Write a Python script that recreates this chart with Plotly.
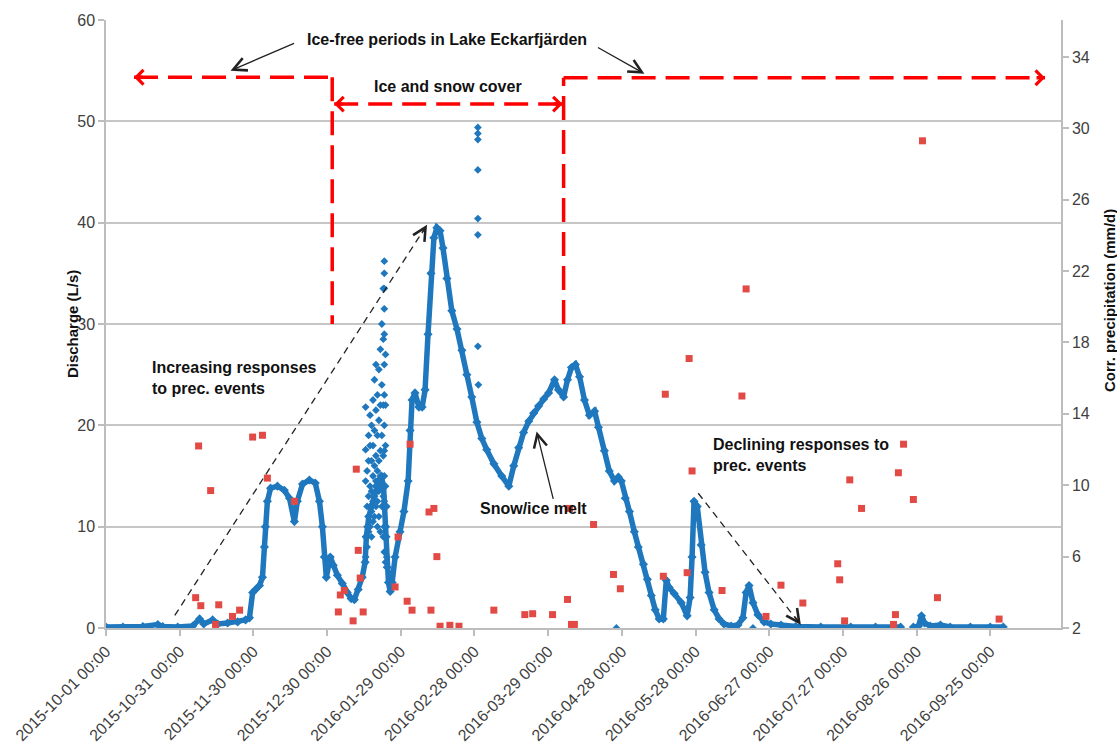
import pandas as pd
import plotly.graph_objects as go

START = pd.Timestamp("2015-10-01 00:00")

# ---------------- data (x = days after 2015-10-01 00:00) ----------------
# Discharge (L/s), main record
q_day = [0.0, 6.9, 15.0, 21.1, 23.1, 29.2, 35.3, 38.1, 39.8, 43.4, 45.5, 49.5, 53.6, 56.8, 58.4,
         59.7, 60.9, 62.5, 63.7, 64.5, 64.9, 65.7, 67.0, 69.8, 72.6, 74.7, 76.7, 77.9, 80.0, 82.8,
         85.2, 86.9, 88.1, 88.9, 89.7, 91.3, 92.5, 94.2, 96.2, 98.2, 99.8, 101.1, 102.7, 104.3, 105.5,
         106.0, 107.0, 108.0, 109.0, 110.0, 111.0, 112.0, 113.0, 113.8, 114.5, 115.0, 115.7, 116.5, 117.7,
         119.7, 121.3, 123.0, 123.8, 124.6, 125.8, 127.4, 128.7, 129.9, 131.1, 132.3, 133.5, 134.7,
         136.0, 137.2, 138.8, 140.8, 142.9, 144.9, 146.9, 148.9, 151.0, 153.0, 155.0, 157.9, 161.1,
         164.0, 166.0, 168.0, 170.0, 172.1, 174.1, 176.1, 178.2, 180.2, 182.6, 184.2, 186.3, 187.9,
         189.5, 191.1, 192.8, 194.8, 196.8, 198.9, 200.5, 202.9, 204.9, 207.0, 208.6, 209.8, 211.4,
         213.1, 215.1, 216.7, 218.8, 220.4, 222.0, 223.6, 225.2, 226.9, 228.1, 229.3, 231.3, 234.2,
         236.6, 237.8, 238.6, 239.4, 240.7, 242.3, 243.9, 245.5, 247.6, 249.6, 251.6, 254.5, 257.3,
         259.3, 260.6, 261.8, 263.4, 265.4, 267.9, 270.7, 274.8, 280.8, 291.0, 303.2, 313.3, 323.5,
         325.0, 328.7, 330.8, 332.0, 333.2, 335.6, 339.7, 343.7, 351.9, 360.0, 365.3]
q_val = [0.1, 0.1, 0.15, 0.35, 0.15, 0.1, 0.2, 0.9, 0.4, 0.8, 0.4, 0.5, 0.6, 0.8, 1.0,
         3.5, 3.8, 4.2, 5.0, 8.0, 10.0, 12.5, 13.8, 14.0, 13.6, 12.8, 10.5, 12.5, 14.2, 14.6,
         14.3, 12.5, 10.0, 7.0, 5.0, 7.0, 6.2, 5.2, 4.4, 3.5, 2.9, 2.8, 3.8, 5.0, 6.5,
         9.0, 11.0, 12.0, 13.0, 14.0, 14.5, 15.0, 14.0, 10.0, 6.0, 4.5, 3.6, 4.5, 7.0,
         9.5, 11.5, 14.5, 19.5, 22.5, 23.2, 21.8, 21.8, 23.5, 29.0, 35.0, 38.5, 39.5,
         39.2, 37.5, 34.5, 31.3, 29.5, 27.4, 25.0, 22.8, 20.3, 18.7, 17.6, 16.2, 15.0,
         14.0, 16.0, 17.8, 19.3, 20.4, 21.2, 21.9, 22.6, 23.2, 24.5, 23.5, 22.8, 24.5,
         25.7, 26.0, 24.8, 22.5, 21.0, 21.4, 19.8, 17.5, 15.5, 14.5, 14.9, 14.5, 12.8,
         11.5, 9.5, 8.0, 6.3, 4.8, 3.2, 1.8, 0.9, 0.9, 4.7, 4.0, 3.4, 2.5,
         1.2, 3.0, 7.0, 12.5, 12.0, 8.2, 5.5, 3.5, 1.8, 0.9, 0.4, 0.2, 0.3,
         1.0, 3.5, 4.2, 2.5, 1.3, 0.6, 0.4, 0.3, 0.15, 0.1, 0.1, 0.1, 0.1,
         None, 0.1, 0.2, 1.2, 0.5, 0.2, 0.3, 0.1, 0.1, 0.1, 0.1]

# Discharge, scattered readings during the January rain/thaw events and isolated readings
q_sc_day = [105.7, 105.7, 105.7, 105.7, 105.7,
            106.3, 106.3, 106.3, 106.3,
            106.9, 106.9, 106.9, 106.9, 106.9,
            107.5, 107.5, 107.5, 107.5, 107.5,
            108.1, 108.1, 108.1, 108.1, 108.1,
            108.7, 108.7, 108.7, 108.7, 108.7,
            109.3, 109.3, 109.3, 109.3, 109.3,
            109.9, 109.9, 109.9, 109.9, 109.9,
            110.5, 110.5, 110.5, 110.5, 110.5,
            111.1, 111.1, 111.1, 111.1, 111.1,
            111.7, 111.7, 111.7, 111.7, 111.7,
            112.3, 112.3, 112.3, 112.3, 112.3,
            112.9, 112.9, 112.9, 112.9, 112.9, 112.9,
            113.3, 113.3, 113.3, 113.3, 113.3, 113.3, 113.3, 113.3, 113.3, 113.3, 113.3, 113.3, 113.3,
            113.8, 113.8, 113.8, 113.8, 113.8, 113.8,
            114.3, 114.3, 114.3,
            151.4, 151.4, 151.4, 151.4, 151.4, 151.4, 151.4, 151.6, 207.8, 263.4]
q_sc_val = [21.8, 17.6, 14.5, 9.0, 7.0,
            12.0, 10.0, 8.0, 15.5,
            16.5, 13.0, 11.0, 9.5, 19.0,
            18.0, 14.0, 12.0, 10.0, 21.0,
            20.0, 16.5, 13.5, 11.5, 9.0,
            22.5, 18.0, 15.0, 12.5, 10.5,
            24.5, 19.5, 16.0, 13.0, 11.0,
            21.5, 17.0, 14.5, 12.0, 26.0,
            23.0, 19.0, 15.5, 12.5, 10.0,
            25.5, 20.5, 16.5, 13.5, 11.0,
            27.5, 22.0, 17.5, 14.0, 9.5,
            30.0, 24.0, 19.0, 15.0, 12.0,
            33.5, 28.5, 22.0, 17.0, 13.0, 9.0,
            36.2, 35.0, 33.5, 31.5, 29.0, 26.0, 23.0, 20.0, 17.5, 15.0, 12.5, 10.0, 7.5,
            27.0, 22.0, 18.0, 14.0, 10.0, 6.5,
            12.0, 9.0, 7.0,
            49.4, 48.8, 48.2, 45.2, 40.4, 38.8, 27.8, 24.0, 0.0, 0.0]

# Corrected precipitation (mm/d)
p_day = [36.5, 37.7, 38.6, 42.6, 44.6, 45.9, 51.5, 54.4, 59.7, 63.7, 65.7, 76.7, 94.6, 95.4,
         97.0, 100.6, 101.9, 102.7, 103.5, 104.7, 117.7, 118.9, 122.6, 123.8, 124.6, 131.5, 132.3,
         133.5, 134.7, 136.0, 140.0, 143.7, 157.9, 170.5, 173.7, 181.8, 187.9, 188.7, 189.5, 190.7,
         198.5, 206.6, 209.4, 226.9, 227.7, 236.6, 237.4, 238.6, 250.8, 258.9, 260.6, 268.7, 274.8,
         283.7, 297.9, 298.7, 300.7, 302.8, 307.6, 320.6, 321.4, 322.6, 324.7, 328.7, 332.4, 338.5,
         363.6]
p_val = [3.7, 12.2, 3.25, 9.7, 2.2, 3.3, 2.65, 3.0, 12.7, 12.8, 10.4, 9.1, 2.9, 3.85,
         4.1, 2.4, 10.9, 6.35, 4.8, 2.9, 4.3, 7.1, 3.5, 12.3, 3.0, 8.5, 3.0,
         8.7, 6.0, 2.1, 2.15, 2.1, 3.0, 2.75, 2.8, 2.75, 3.6, 8.7, 2.2, 2.2,
         7.8, 5.0, 4.2, 4.9, 15.1, 5.1, 17.1, 10.8, 4.1, 15.0, 21.0, 2.65, 4.4,
         3.4, 5.6, 4.7, 2.4, 10.3, 8.7, 2.2, 2.75, 10.7, 12.3, 9.2, 29.3, 3.7,
         2.5]

tick_days = [0, 30, 60, 90, 120, 150, 180, 210, 240, 270, 300, 330, 360]
x_end_day = 388.8

left_ticks = [0, 10, 20, 30, 40, 50, 60]
right_ticks = [2, 6, 10, 14, 18, 22, 26, 30, 34]


def D(days):
    return START + pd.to_timedelta(days, unit="D")


q_x = [D(d) for d in q_day]
qs_x = [D(d) for d in q_sc_day]
p_x = [D(d) for d in p_day]
tick_x = [D(d) for d in tick_days]
tick_text = [t.strftime("%Y-%m-%d %H:%M") for t in tick_x]

BLUE = "#1f78be"
PRED = "#e24a45"
FONT = "Liberation Sans, Arial, sans-serif"
GRID = "#c6c6c6"
AX = "#bdbdbd"

fig = go.Figure()
fig.add_trace(go.Scatter(x=q_x, y=q_val, mode="lines+markers", connectgaps=False,
                         line=dict(color=BLUE, width=5.5),
                         marker=dict(symbol="diamond", size=7, color=BLUE),
                         showlegend=False, yaxis="y"))
fig.add_trace(go.Scatter(x=qs_x, y=q_sc_val, mode="markers",
                         marker=dict(symbol="diamond", size=6, color=BLUE),
                         showlegend=False, yaxis="y"))
fig.add_trace(go.Scatter(x=p_x, y=p_val, mode="markers",
                         marker=dict(symbol="square", size=7, color=PRED),
                         showlegend=False, yaxis="y2"))

RED = "#ff0000"
red_line = dict(color=RED, width=3.5, dash="24px,10px")
blk_line = dict(color="#222222", width=1.3, dash="7px,5px")
shapes = [
    dict(type="line", xref="x", yref="y", x0=D(11.4), x1=D(92.1), y0=54.35, y1=54.35, line=red_line),
    dict(type="line", xref="x", yref="y", x0=D(92.1), x1=D(92.1), y0=54.35, y1=30, line=red_line),
    dict(type="line", xref="x", yref="y", x0=D(92.9), x1=D(185.9), y0=51.7, y1=51.7, line=red_line),
    dict(type="line", xref="x", yref="y", x0=D(186.3), x1=D(186.3), y0=30, y1=54.3, line=red_line),
    dict(type="line", xref="x", yref="y", x0=D(186.3), x1=D(382.3), y0=54.3, y1=54.3, line=red_line),
    dict(type="line", xref="x", yref="y", x0=D(28.0), x1=D(130.7), y0=1.24, y1=39.8, line=blk_line),
    dict(type="line", xref="x", yref="y", x0=D(241.1), x1=D(282.9), y0=13.3, y1=0.29, line=blk_line),
]

ann = []
tfont = dict(family=FONT, size=16, color="#111111")


def text(day, y, s, xanchor="center", align="center"):
    ann.append(dict(x=D(day), y=y, xref="x", yref="y", text=s, showarrow=False,
                    xanchor=xanchor, yanchor="middle", align=align, font=tfont))


def arrow(day, y, ax, ay, color, width, head, size):
    ann.append(dict(x=D(day), y=y, xref="x", yref="y", text="", showarrow=True,
                    ax=ax, ay=ay, arrowcolor=color, arrowwidth=width, arrowhead=head,
                    arrowsize=size, standoff=0, startstandoff=0))


text(138.8, 58.1, "<b>Ice-free periods in Lake Eckarfjärden</b>")
text(139.2, 53.4, "<b>Ice and snow cover</b>")
text(17.9, 24.7, "<b>Increasing responses<br>to prec. events</b>", xanchor="left", align="left")
text(246.3, 17.1, "<b>Declining responses to<br>prec. events</b>", xanchor="left", align="left")
text(174.1, 11.8, "<b>Snow/ice melt</b>")

# solid black arrows
arrow(50.7, 55.0, 65, -28, "#222222", 1.3, 5, 2.0)
arrow(219.2, 54.7, -48, -27, "#222222", 1.3, 5, 2.0)
arrow(175.3, 19.4, 17, 69, "#222222", 1.3, 5, 2.0)
# heads of dashed black arrows
arrow(130.7, 39.8, -6, 10, "#222222", 1.3, 5, 2.0)
arrow(282.9, 0.29, -7, -10, "#222222", 1.3, 5, 2.0)
# red arrow heads
arrow(11.4, 54.35, 10, 0, RED, 3.5, 4, 0.8)
arrow(92.9, 51.7, 10, 0, RED, 3.5, 4, 0.8)
arrow(185.9, 51.7, -10, 0, RED, 3.5, 4, 0.8)
arrow(382.3, 54.3, -10, 0, RED, 3.5, 4, 0.8)

# axis titles
ann.append(dict(xref="paper", yref="paper", x=(69 - 103) / 958, y=0.5, text="<b>Discharge (L/s)</b>",
                textangle=-90, showarrow=False, xanchor="center", yanchor="middle",
                font=dict(family=FONT, size=15, color="#111111")))
ann.append(dict(xref="paper", yref="paper", x=(1109 - 103) / 958, y=(646 - 308) / 627,
                text="<b>Corr. precipitation (mm/d)</b>", textangle=-90, showarrow=False,
                xanchor="center", yanchor="middle", font=dict(family=FONT, size=15, color="#111111")))

fig.update_layout(
    width=1117, height=756,
    margin=dict(l=103, r=56, t=19, b=110),
    paper_bgcolor="white", plot_bgcolor="white",
    showlegend=False,
    shapes=shapes, annotations=ann,
    xaxis=dict(type="date", range=[D(0), D(x_end_day)], tickmode="array", tickvals=tick_x,
               ticktext=tick_text, tickangle=-45, tickfont=dict(family=FONT, size=16, color="#404040"),
               showgrid=False, zeroline=False, showline=True, linecolor=AX, linewidth=1.5,
               ticks="outside", ticklen=6, tickcolor=AX, tickwidth=1.5),
    yaxis=dict(range=[0, 60], tickmode="array", tickvals=left_ticks,
               tickfont=dict(family=FONT, size=16, color="#404040"),
               showgrid=True, gridcolor=GRID, gridwidth=1.5, zeroline=False,
               showline=True, linecolor=AX, linewidth=1.5, ticks="outside", ticklen=6,
               tickcolor=AX, tickwidth=1.5),
    yaxis2=dict(range=[2, 36.07], overlaying="y", side="right", tickmode="array",
                tickvals=right_ticks, tickfont=dict(family=FONT, size=16, color="#404040"),
                showgrid=False, zeroline=False, showline=True, linecolor=AX, linewidth=1.5,
                ticks="outside", ticklen=6, tickcolor=AX, tickwidth=1.5),
)

fig.write_html("out.html")
